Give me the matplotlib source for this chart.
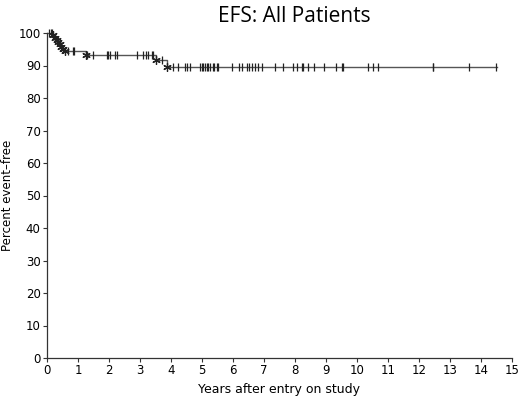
import matplotlib
matplotlib.use("Agg")
import matplotlib.pyplot as plt
import numpy as np

# Kaplan-Meier step data (event times and survival after each event)
event_times = [0.20, 0.26, 0.31, 0.36, 0.41, 0.46, 0.52, 0.58, 1.25, 3.50, 3.88]
event_surv = [99.3, 98.6, 97.9, 97.2, 96.5, 95.8, 95.1, 94.5, 93.2, 91.6, 89.6]
end_time = 14.5

censor_times = [0.08, 0.13, 0.17,
                0.68, 0.83, 0.88,
                1.30, 1.49, 1.93, 1.98, 2.03, 2.19, 2.25, 2.89, 3.10, 3.19, 3.27, 3.38, 3.43,
                3.70,
                4.07, 4.24, 4.45, 4.50, 4.61, 4.94, 4.99, 5.04, 5.10, 5.15, 5.20, 5.26, 5.34,
                5.39, 5.47, 5.53, 5.96, 6.20, 6.28, 6.44, 6.52, 6.60, 6.71, 6.82, 6.92, 7.35,
                7.62, 7.92, 8.05, 8.22, 8.27, 8.43, 8.62, 8.92, 9.32, 9.51, 9.56, 10.36,
                10.52, 10.69, 12.44, 12.46, 13.62, 14.48]

x_ticks = list(range(0, 16))
y_ticks = list(range(0, 101, 10))

fig = plt.figure(figsize=(5.2, 3.99), dpi=100)
ax = fig.add_axes([47/520, 1-358/399, 465/520, 325/399])

# Step curve
st = [0.0] + event_times + [end_time]
sv = [100.0] + event_surv + [event_surv[-1]]
ax.step(st, sv, where='post', color='#555555', lw=1.0, clip_on=False, zorder=2)

# Censor marks
def surv_at(t):
    s = 100.0
    for et, es in zip(event_times, event_surv):
        if t >= et:
            s = es
    return s

cs = [surv_at(t) for t in censor_times]
ax.plot(censor_times, cs, ls='none', marker='|', ms=6, mew=0.9, color='#222222', clip_on=False, zorder=3)

# Event marks (asterisks at the drops)
ax.plot(event_times, event_surv, ls='none', marker=(6, 2, 0), ms=6, mew=0.9, color='#222222', clip_on=False, zorder=3)

ax.set_xlim(0, 15)
ax.set_ylim(0, 100)
ax.set_xticks(x_ticks)
ax.set_yticks(y_ticks)
for s in ['top', 'right']:
    ax.spines[s].set_visible(False)
for s in ['left', 'bottom']:
    ax.spines[s].set_linewidth(0.9)
    ax.spines[s].set_color('#333333')
ax.tick_params(direction='out', length=3, width=0.8, labelsize=8.5, pad=1.5, colors='#333333', labelcolor='black')

ax.set_xlabel('Years after entry on study', fontsize=9, labelpad=4)
ax.set_ylabel('Percent event\u2013free', fontsize=8.5, labelpad=3)

fig.text(294/520, 1-16/399, 'EFS: All Patients', ha='center', va='center', fontsize=15, family='Open Sans')

fig.savefig('out.png', dpi=100)
